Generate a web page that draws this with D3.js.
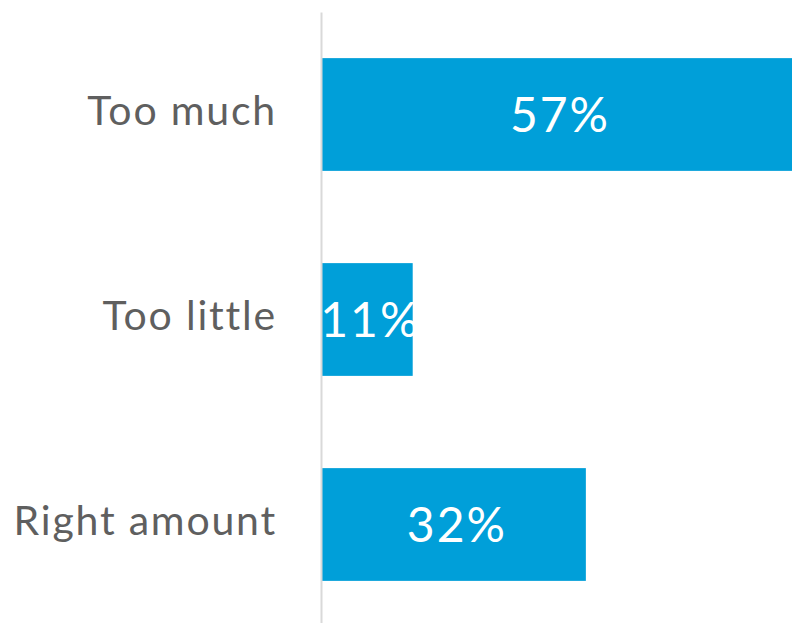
<!DOCTYPE html>
<html>
<head>
<meta charset="utf-8">
<script src="https://cdn.jsdelivr.net/npm/d3@7"></script>
<style>
  html, body { margin: 0; padding: 0; background: #ffffff; }
  svg { display: block; }
</style>
</head>
<body>
<svg id="chart" width="792" height="623"></svg>
<script>
const categories = ["Too much", "Too little", "Right amount"];
const values = [57, 11, 32];
const valueLabels = ["57%", "11%", "32%"];

const svg = d3.select("#chart");

const x = d3.scaleLinear().domain([0, d3.max(values)]).range([322, 792]);
const y = d3.scaleBand().domain(categories).range([12, 627]).paddingInner(0.45).paddingOuter(0.225);

const data = categories.map((c, i) => ({ cat: c, val: values[i], label: valueLabels[i] }));

svg.selectAll("rect.bar").data(data).enter().append("rect")
  .attr("class", "bar")
  .attr("x", x(0))
  .attr("y", d => y(d.cat))
  .attr("width", d => x(d.val) - x(0))
  .attr("height", y.bandwidth())
  .attr("fill", "#009fd9");

const axis = d3.axisLeft(y).tickSize(0).tickPadding(44);
const g = svg.append("g").attr("transform", `translate(321,0)`).call(axis);
g.select(".domain").attr("stroke", "#d9d9d9").attr("stroke-width", 2);
g.selectAll(".tick text")
  .attr("fill", "#5f5f5f")
  .attr("font-family", "Lato, 'Open Sans', sans-serif")
  .attr("font-size", 41)
  .attr("letter-spacing", "1.8px")
  .attr("dy", null)
  .attr("y", 10);

svg.selectAll("text.val").data(data).enter().append("text")
  .attr("class", "val")
  .attr("x", d => (x(0) + x(d.val)) / 2 + 3)
  .attr("y", d => y(d.cat) + y.bandwidth() / 2 + 17)
  .attr("text-anchor", "middle")
  .attr("fill", "#ffffff")
  .attr("font-family", "Lato, 'Open Sans', sans-serif")
  .attr("font-size", 48)
  .attr("letter-spacing", "2px")
  .text(d => d.label);
</script>
</body>
</html>
